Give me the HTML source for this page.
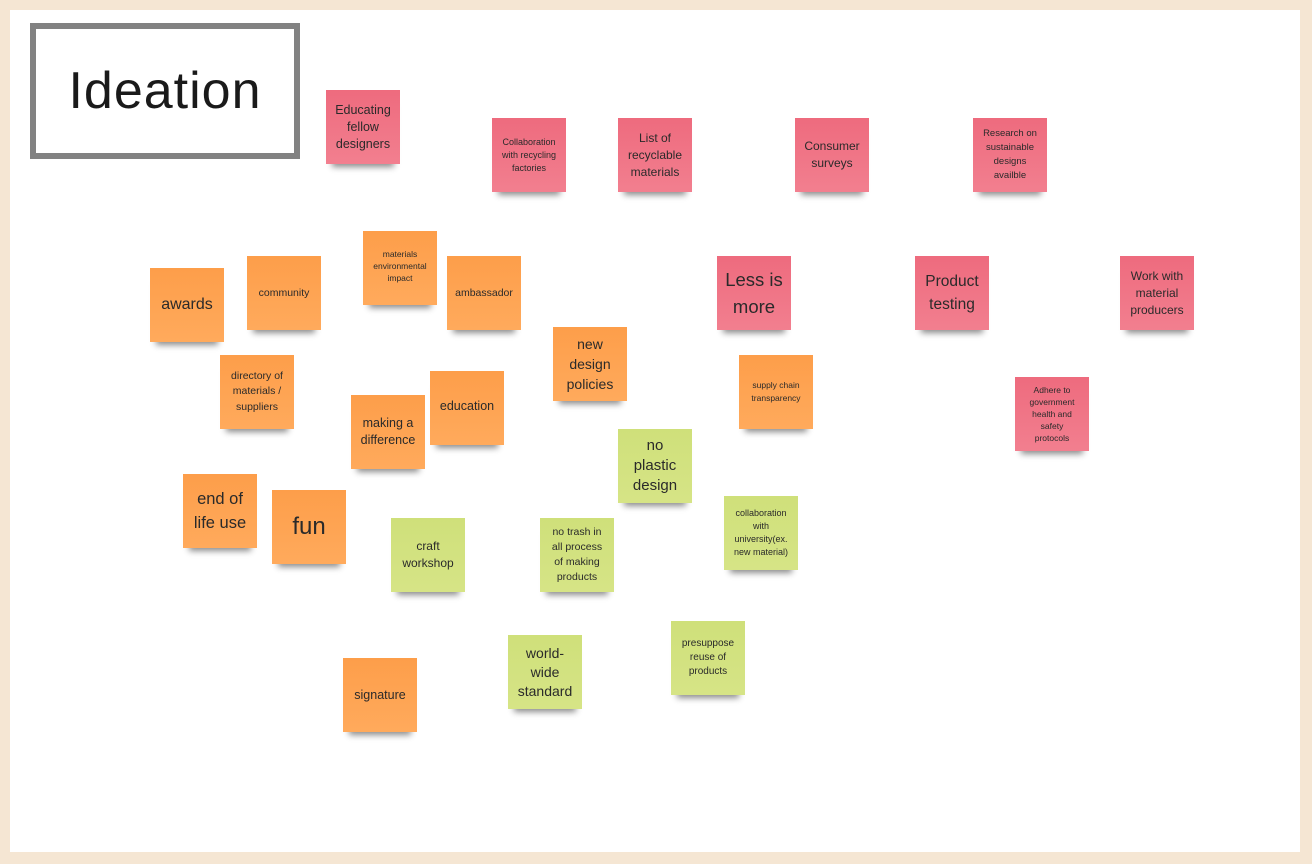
<!DOCTYPE html>
<html><head><meta charset="utf-8"><style>
html,body{margin:0;padding:0}
body{width:1312px;height:864px;background:#f5e6d3;position:relative;overflow:hidden;font-family:"Liberation Sans",sans-serif}
.board{position:absolute;left:10px;top:10px;width:1290px;height:842px;background:#fff}
.frame{position:absolute;left:30px;top:23px;width:258px;height:124px;border:6px solid #828282;display:flex;align-items:center;justify-content:center;font-size:52px;color:#1a1a1a;letter-spacing:1px}
.n{position:absolute;width:74px;height:74px;display:flex;align-items:center;justify-content:center;text-align:center;color:#2a2a2a;box-shadow:0 9px 6px -6px rgba(0,0,0,0.45);box-sizing:border-box;padding:0 1px;white-space:nowrap}
.p{background:linear-gradient(#ee6b7e,#f27f8f)}
.o{background:linear-gradient(#fd9e4a,#ffaa5c)}
.g{background:linear-gradient(#cfe07a,#d6e486)}
</style></head><body>
<div class="board"></div>
<div class="frame">Ideation</div>

<div class="n p" style="left:326px;top:90px;font-size:12.5px;line-height:17px">Educating<br>fellow<br>designers</div>
<div class="n p" style="left:492px;top:118px;font-size:9px;line-height:13px">Collaboration<br>with recycling<br>factories</div>
<div class="n p" style="left:618px;top:118px;font-size:12px;line-height:17px">List of<br>recyclable<br>materials</div>
<div class="n p" style="left:795px;top:118px;font-size:12px;line-height:17px">Consumer<br>surveys</div>
<div class="n p" style="left:973px;top:118px;font-size:9.5px;line-height:14px">Research on<br>sustainable<br>designs<br>availble</div>

<div class="n o" style="left:150px;top:268px;font-size:16px;line-height:22px">awards</div>
<div class="n o" style="left:247px;top:256px;font-size:10.5px;line-height:15px">community</div>
<div class="n o" style="left:363px;top:231px;font-size:8.5px;line-height:12px;padding-bottom:4px">materials<br>environmental<br>impact</div>
<div class="n o" style="left:447px;top:256px;font-size:10.5px;line-height:15px">ambassador</div>
<div class="n p" style="left:717px;top:256px;font-size:18.5px;line-height:27px">Less is<br>more</div>
<div class="n p" style="left:915px;top:256px;font-size:15.5px;line-height:23px">Product<br>testing</div>
<div class="n p" style="left:1120px;top:256px;font-size:12px;line-height:17px">Work with<br>material<br>producers</div>

<div class="n o" style="left:553px;top:327px;font-size:14px;line-height:20px">new<br>design<br>policies</div>
<div class="n o" style="left:220px;top:355px;font-size:10.5px;line-height:15.5px">directory of<br>materials /<br>suppliers</div>
<div class="n o" style="left:739px;top:355px;font-size:8.5px;line-height:13px">supply chain<br>transparency</div>
<div class="n p" style="left:1015px;top:377px;font-size:8.5px;line-height:12px">Adhere to<br>government<br>health and<br>safety<br>protocols</div>
<div class="n o" style="left:351px;top:395px;font-size:12.5px;line-height:17px">making a<br>difference</div>
<div class="n o" style="left:430px;top:371px;font-size:12.5px;line-height:17px;padding-bottom:4px">education</div>
<div class="n g" style="left:618px;top:429px;font-size:15px;line-height:20px">no<br>plastic<br>design</div>

<div class="n o" style="left:183px;top:474px;font-size:16.5px;line-height:24px">end of<br>life use</div>
<div class="n o" style="left:272px;top:490px;font-size:24px;line-height:28px">fun</div>
<div class="n g" style="left:391px;top:518px;font-size:12px;line-height:17px">craft<br>workshop</div>
<div class="n g" style="left:540px;top:518px;font-size:10.5px;line-height:15px">no trash in<br>all process<br>of making<br>products</div>
<div class="n g" style="left:724px;top:496px;font-size:9px;line-height:13px">collaboration<br>with<br>university(ex.<br>new material)</div>
<div class="n g" style="left:508px;top:635px;font-size:14px;line-height:19px">world-<br>wide<br>standard</div>
<div class="n g" style="left:671px;top:621px;font-size:10px;line-height:14px">presuppose<br>reuse of<br>products</div>
<div class="n o" style="left:343px;top:658px;font-size:12.5px;line-height:17px">signature</div>
</body></html>
